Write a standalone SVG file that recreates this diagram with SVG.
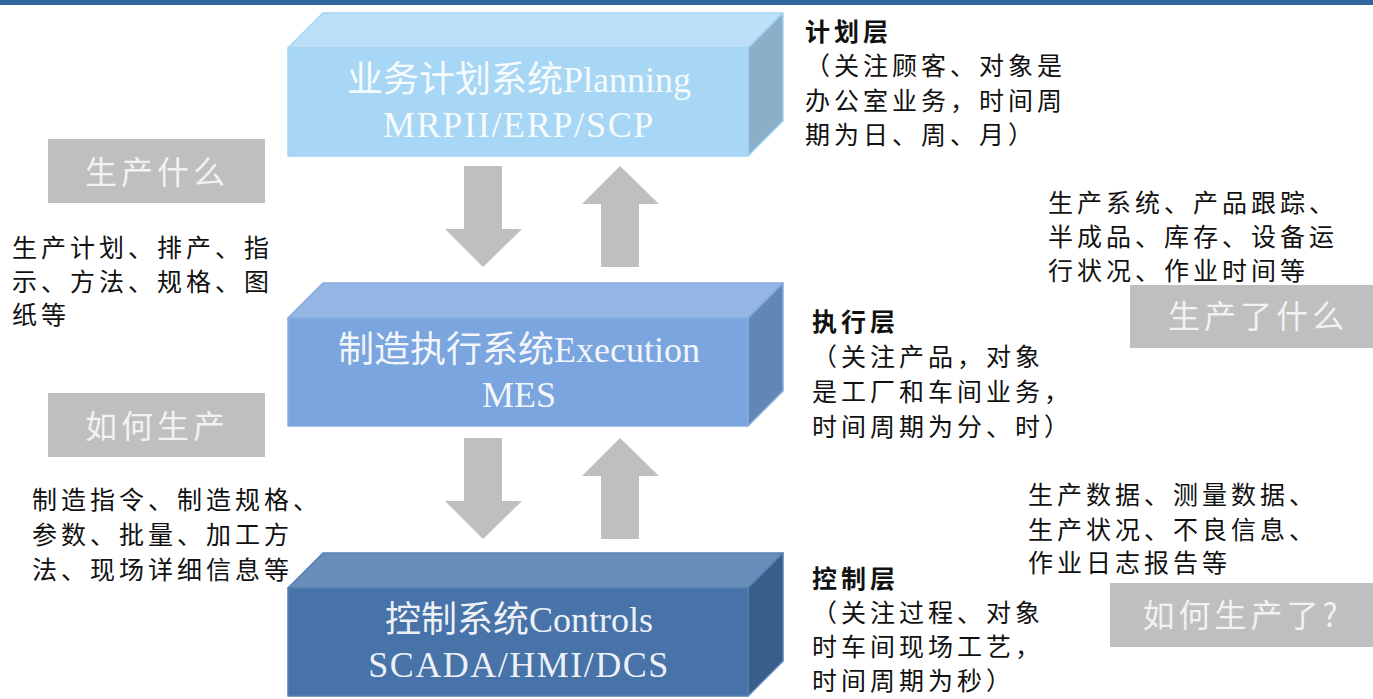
<svg xmlns="http://www.w3.org/2000/svg" width="1373" height="699" viewBox="0 0 1373 699">
<style>
.box-t{font-family:"Liberation Serif","Noto Sans CJK SC",serif;font-size:36px;fill:#FFFFFF;fill-opacity:0.92;text-anchor:middle}
.txt{font-family:"Noto Sans CJK SC",sans-serif;font-size:25px;fill:#111111;letter-spacing:4px}
.bold{font-weight:bold}
.gbox{fill:#BFBFBF}
.gtxt{font-family:"Noto Sans CJK SC",sans-serif;font-size:32px;fill:#F2F2F2;letter-spacing:4px;text-anchor:middle}
.arrow{fill:#BFBFBF}
</style>
<rect x="0" y="0" width="1373" height="5" fill="#31669B"/>

<g id="box-planning" stroke="#A2D3F3" stroke-width="1.5" stroke-linejoin="round">
<polygon points="288,48 323,13 783,13 748,48" fill="#BCE0F7"/>
<polygon points="748,48 783,13 783,121 748,156" fill="#8AAFC6"/>
<rect x="288" y="48" width="460" height="108" fill="#A8D7F5"/>
<text class="box-t" x="519" y="92" stroke="none">业务计划系统Planning</text>
<text class="box-t" x="519" y="137" stroke="none" letter-spacing="1.7">MRPII/ERP/SCP</text>
</g>

<g id="box-execution" stroke="#86ACE0" stroke-width="1.5" stroke-linejoin="round">
<polygon points="288,318 323,283 783,283 748,318" fill="#95B5E4"/>
<polygon points="748,318 783,283 783,391 748,426" fill="#6387B5"/>
<rect x="288" y="318" width="460" height="108" fill="#7BA5DE"/>
<text class="box-t" x="519" y="362" stroke="none">制造执行系统Execution</text>
<text class="box-t" x="519" y="407" stroke="none">MES</text>
</g>

<g id="box-control" stroke="#5580B3" stroke-width="1.5" stroke-linejoin="round">
<polygon points="288,588 323,553 783,553 748,588" fill="#6A8EBA"/>
<polygon points="748,588 783,553 783,661 748,696" fill="#3A5E8A"/>
<rect x="288" y="588" width="460" height="108" fill="#4773A8"/>
<text class="box-t" x="519" y="632" stroke="none">控制系统Controls</text>
<text class="box-t" x="519" y="677" stroke="none" letter-spacing="1.5">SCADA/HMI/DCS</text>
</g>

<g id="connectors">
<polygon class="arrow" points="464,166 502,166 502,229 522,229 483,267 445,229 464,229"/>
<polygon class="arrow" points="620,166 659,204 639,204 639,267 601,267 601,204 582,204"/>
<polygon class="arrow" points="464,438 502,438 502,501 522,501 483,539 445,501 464,501"/>
<polygon class="arrow" points="620,438 659,476 639,476 639,539 601,539 601,476 582,476"/>
</g>

<g id="label-what">
<rect class="gbox" x="48" y="139" width="217" height="64"/>
<text class="gtxt" x="157" y="184">生产什么</text>
</g>
<g id="label-how">
<rect class="gbox" x="48" y="393" width="217" height="64"/>
<text class="gtxt" x="157" y="438">如何生产</text>
</g>
<g id="label-produced">
<rect class="gbox" x="1130" y="285" width="243" height="63"/>
<text class="gtxt" x="1258" y="328">生产了什么</text>
</g>
<g id="label-how-produced">
<rect class="gbox" x="1110" y="583" width="263" height="64"/>
<text class="gtxt" x="1242" y="627">如何生产了?</text>
</g>

<g id="note-plan-input">
<text class="txt" x="12" y="257">生产计划、排产、指</text>
<text class="txt" x="12" y="291">示、方法、规格、图</text>
<text class="txt" x="12" y="324">纸等</text>
</g>
<g id="note-exec-input">
<text class="txt" x="32" y="509">制造指令、制造规格、</text>
<text class="txt" x="32" y="544">参数、批量、加工方</text>
<text class="txt" x="32" y="579">法、现场详细信息等</text>
</g>

<g id="note-plan-layer">
<text class="txt bold" x="805" y="41">计划层</text>
<text class="txt" x="805" y="75">（关注顾客、对象是</text>
<text class="txt" x="805" y="110">办公室业务，时间周</text>
<text class="txt" x="805" y="144">期为日、周、月）</text>
</g>
<g id="note-exec-output">
<text class="txt" x="1048" y="212">生产系统、产品跟踪、</text>
<text class="txt" x="1048" y="246">半成品、库存、设备运</text>
<text class="txt" x="1048" y="280">行状况、作业时间等</text>
</g>
<g id="note-exec-layer">
<text class="txt bold" x="812" y="331">执行层</text>
<text class="txt" x="812" y="366">（关注产品，对象</text>
<text class="txt" x="812" y="401">是工厂和车间业务，</text>
<text class="txt" x="812" y="436">时间周期为分、时）</text>
</g>
<g id="note-ctrl-output">
<text class="txt" x="1028" y="504">生产数据、测量数据、</text>
<text class="txt" x="1028" y="539">生产状况、不良信息、</text>
<text class="txt" x="1028" y="572">作业日志报告等</text>
</g>
<g id="note-ctrl-layer">
<text class="txt bold" x="812" y="588">控制层</text>
<text class="txt" x="812" y="622">（关注过程、对象</text>
<text class="txt" x="812" y="656">时车间现场工艺，</text>
<text class="txt" x="812" y="690">时间周期为秒）</text>
</g>
</svg>
